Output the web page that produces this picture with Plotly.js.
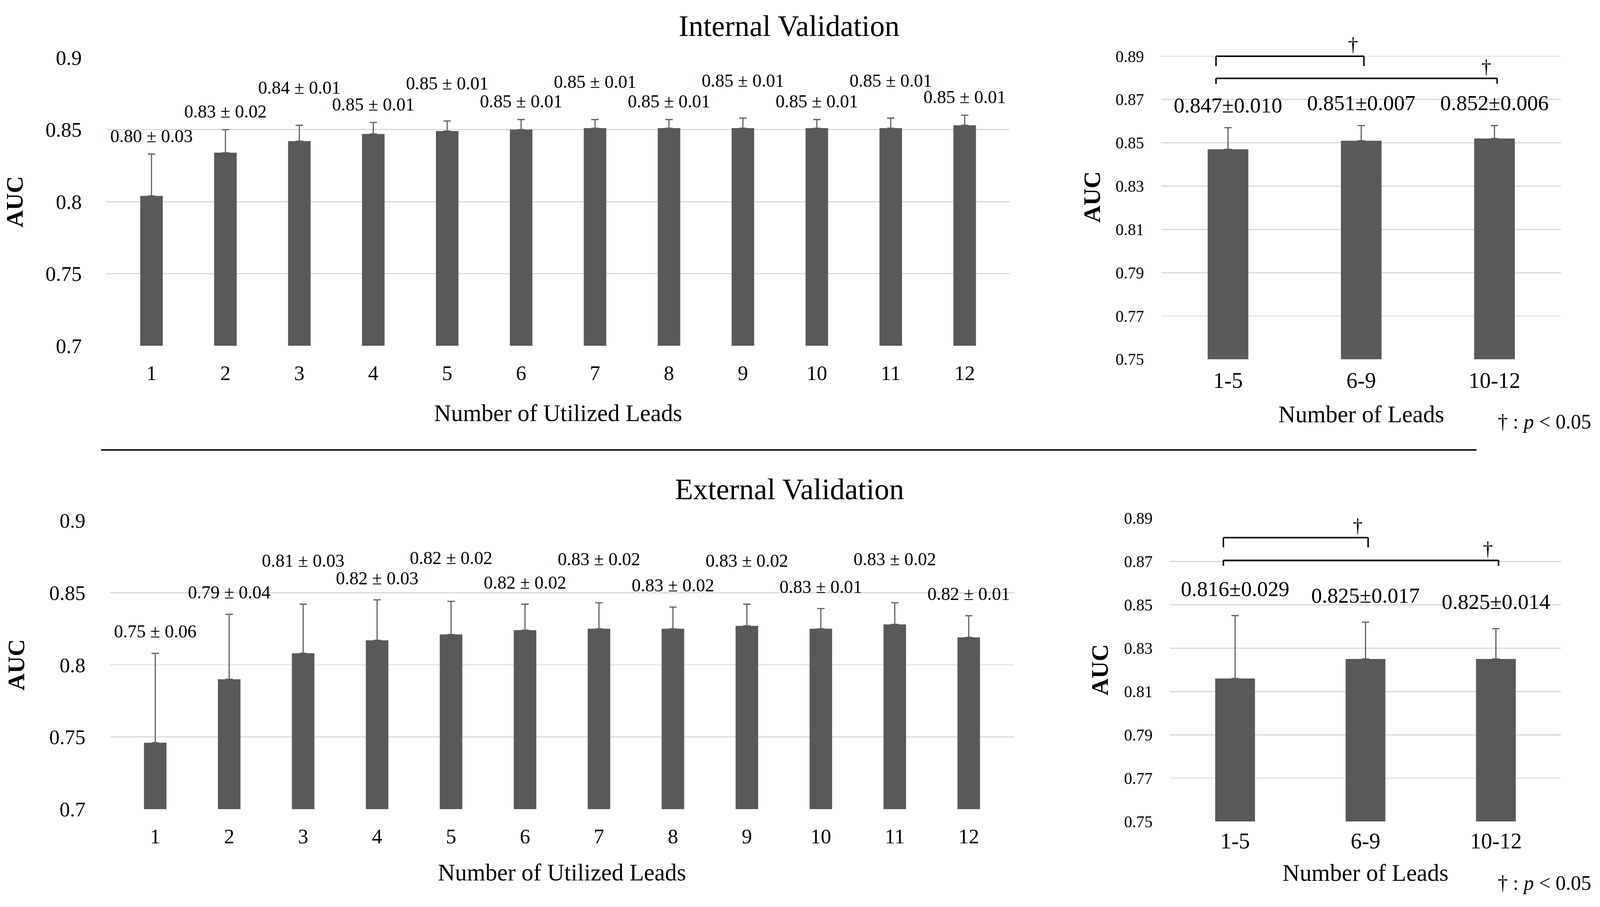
<!DOCTYPE html>
<html>
<head>
<meta charset="utf-8">
<script src="https://cdn.plot.ly/plotly-3.0.1.min.js"></script>
<style>
html,body{margin:0;padding:0;background:#fff;overflow:hidden;}
#chart{position:absolute;left:0;top:0;}
</style>
</head>
<body>
<div id="chart"></div>
<script>
// ---------- data ----------
const leadCounts = ['1','2','3','4','5','6','7','8','9','10','11','12'];
const internalMean = [0.804, 0.834, 0.842, 0.847, 0.849, 0.850, 0.851, 0.851, 0.851, 0.851, 0.851, 0.853];
const internalSD   = [0.029, 0.016, 0.011, 0.008, 0.007, 0.007, 0.006, 0.006, 0.007, 0.006, 0.007, 0.007];
const internalLabels = ['0.80 ± 0.03','0.83 ± 0.02','0.84 ± 0.01','0.85 ± 0.01','0.85 ± 0.01','0.85 ± 0.01',
                        '0.85 ± 0.01','0.85 ± 0.01','0.85 ± 0.01','0.85 ± 0.01','0.85 ± 0.01','0.85 ± 0.01'];
const externalMean = [0.746, 0.790, 0.808, 0.817, 0.821, 0.824, 0.825, 0.825, 0.827, 0.825, 0.828, 0.819];
const externalSD   = [0.062, 0.045, 0.034, 0.028, 0.023, 0.018, 0.018, 0.015, 0.015, 0.014, 0.015, 0.015];
const externalLabels = ['0.75 ± 0.06','0.79 ± 0.04','0.81 ± 0.03','0.82 ± 0.03','0.82 ± 0.02','0.82 ± 0.02',
                        '0.83 ± 0.02','0.83 ± 0.02','0.83 ± 0.02','0.83 ± 0.01','0.83 ± 0.02','0.82 ± 0.01'];

const leadGroups = ['1-5','6-9','10-12'];
const internalGroupMean = [0.847, 0.851, 0.852];
const internalGroupSD   = [0.010, 0.007, 0.006];
const externalGroupMean = [0.816, 0.825, 0.825];
const externalGroupSD   = [0.029, 0.017, 0.014];
const significantPairs  = [[0,1],[0,2]];

const leftTickVals  = [0.7, 0.75, 0.8, 0.85, 0.9];
const leftTickText  = ['0.7','0.75','0.8','0.85','0.9'];
const rightTickVals = [0.75, 0.77, 0.79, 0.81, 0.83, 0.85, 0.87, 0.89];
const rightTickText = ['0.75','0.77','0.79','0.81','0.83','0.85','0.87','0.89'];

// ---------- size (fit the real viewport) ----------
const W = window.innerWidth || 4319, H = window.innerHeight || 2322;
const S = Math.min(W / 4319, H / 2322);
const px = v => v * S;
const el = document.getElementById('chart');
el.style.width = W + 'px'; el.style.height = H + 'px';

// ---------- style ----------
const FONT = 'Liberation Serif, Times New Roman, serif';
const BAR = '#595959';
const GRID = '#d9d9d9';
const NOTICK = 'rgba(0,0,0,0)';

function barTrace(x, y, sd, xa, ya){
  return {type:'bar', x:x, y:y, xaxis:xa, yaxis:ya, showlegend:false, hoverinfo:'skip',
    marker:{color:BAR, line:{width:0}},
    error_y:{type:'data', symmetric:false, array:sd, arrayminus:sd.map(()=>0),
             color:BAR, thickness:px(3), width:px(10)}};
}
function labelTrace(x, mean, sd, text, xa, ya, base, stagger, size){
  const y = mean.map((m,i)=> m + sd[i] + base + ((i>=2 && i%2===0) ? stagger : 0));
  return {type:'scatter', mode:'text', x:x, y:y, text:text, xaxis:xa, yaxis:ya,
    textposition:'middle center', cliponaxis:false, showlegend:false, hoverinfo:'skip',
    textfont:{family:FONT, size:px(size), color:'#000'}};
}
function groupLabels(mean, sd){
  return mean.map((m,i)=> m.toFixed(3) + '±' + sd[i].toFixed(3));
}

const traces = [
  barTrace(leadCounts, internalMean, internalSD, 'x', 'y'),
  labelTrace(leadCounts, internalMean, internalSD, internalLabels, 'x', 'y', 0.0115, 0.0135, 49),
  barTrace(leadGroups, internalGroupMean, internalGroupSD, 'x2', 'y2'),
  labelTrace(leadGroups, internalGroupMean, internalGroupSD, groupLabels(internalGroupMean, internalGroupSD), 'x2', 'y2', 0.0095, 0, 58),
  barTrace(leadCounts, externalMean, externalSD, 'x3', 'y3'),
  labelTrace(leadCounts, externalMean, externalSD, externalLabels, 'x3', 'y3', 0.014, 0.015, 49),
  barTrace(leadGroups, externalGroupMean, externalGroupSD, 'x4', 'y4'),
  labelTrace(leadGroups, externalGroupMean, externalGroupSD, groupLabels(externalGroupMean, externalGroupSD), 'x4', 'y4', 0.0115, 0, 58)
];

function xAxis(domain, anchor, title, tickSize, gap, titleStandoff){
  return {domain:domain, anchor:anchor, type:'category', showgrid:false, zeroline:false, showline:false,
    ticks:'outside', ticklen:px(gap), tickcolor:NOTICK, tickwidth:1,
    tickfont:{family:FONT, size:px(tickSize), color:'#000'},
    automargin:false, fixedrange:true,
    title:{text:title, font:{family:FONT, size:px(64), color:'#000'}, standoff:px(titleStandoff)}};
}
function yAxis(domain, anchor, range, vals, text, tickSize, gap, titleStandoff){
  return {domain:domain, anchor:anchor, range:range, tickmode:'array', tickvals:vals, ticktext:text,
    showgrid:true, gridcolor:GRID, gridwidth:px(3), zeroline:false, showline:false,
    ticks:'outside', ticklen:px(gap), tickcolor:NOTICK, tickwidth:1,
    tickfont:{family:FONT, size:px(tickSize), color:'#000'},
    automargin:false, fixedrange:true,
    title:{text:'<b>AUC</b>', font:{family:FONT, size:px(64), color:'#000'}, standoff:px(titleStandoff)}};
}

// brackets for significance
function brackets(xa, ya, levels, legs){
  const shapes = [], anns = [];
  significantPairs.forEach((p, k)=>{
    const x0 = p[0] - 0.09, x1 = p[1] + 0.02, y = levels[k], yl = y - legs[k];
    const line = {type:'line', xref:xa, yref:ya, line:{color:'#000', width:px(4)}};
    shapes.push(Object.assign({}, line, {x0:x0, x1:x1, y0:y, y1:y}));
    shapes.push(Object.assign({}, line, {x0:x0, x1:x0, y0:y, y1:yl}));
    shapes.push(Object.assign({}, line, {x0:x1, x1:x1, y0:y, y1:yl}));
    anns.push({xref:xa, yref:ya, x:x1 - 0.08, y:y + 0.0055, text:'†', showarrow:false,
      xanchor:'center', yanchor:'middle', font:{family:FONT, size:px(54), color:'#000'}});
  });
  return {shapes, anns};
}
const bTop = brackets('x2', 'y2', [0.89, 0.8798], [0.0045, 0.0025]);
const bBot = brackets('x4', 'y4', [0.881, 0.8705], [0.0045, 0.0025]);

const layout = {
  width:W, height:H, margin:{l:0, r:0, t:0, b:0},
  paper_bgcolor:'#fff', plot_bgcolor:'#fff',
  font:{family:FONT, color:'#000'},
  bargap:0.695, showlegend:false,
  title:{text:'Internal Validation', x:0.4932, y:0.972, xref:'paper', yref:'paper',
         xanchor:'center', yanchor:'middle', font:{family:FONT, size:px(80), color:'#000'}},
  xaxis:  xAxis([0.06645, 0.63116], 'y',  'Number of Utilized Leads', 56, 24, 55),
  yaxis:  yAxis([0.61873, 0.93656], 'x',  [0.7, 0.9], leftTickVals, leftTickText, 56, 54, 40),
  xaxis2: xAxis([0.72586, 0.97569], 'y2', 'Number of Leads', 60, 4, 36),
  yaxis2: yAxis([0.60388, 0.96184], 'x2', [0.75, 0.9], rightTickVals, rightTickText, 44, 37, 20),
  xaxis3: xAxis([0.06877, 0.63371], 'y3', 'Number of Utilized Leads', 56, 24, 44),
  yaxis3: yAxis([0.10788, 0.42618], 'x3', [0.7, 0.9], leftTickVals, leftTickText, 56, 54, 46),
  xaxis4: xAxis([0.73119, 0.97569], 'y4', 'Number of Leads', 60, 0, 30),
  yaxis4: yAxis([0.09431, 0.42877], 'x4', [0.75, 0.89], rightTickVals, rightTickText, 44, 37, 22),
  shapes: [
    {type:'line', xref:'paper', yref:'paper', x0:0.0632, x1:0.9229, y0:0.5039, y1:0.5039,
     line:{color:'#000', width:px(4)}}
  ].concat(bTop.shapes, bBot.shapes),
  annotations: [
    {xref:'paper', yref:'paper', x:0.4934, y:0.4608, text:'External Validation', showarrow:false,
     xanchor:'center', yanchor:'middle', font:{family:FONT, size:px(80), color:'#000'}},
    {xref:'paper', yref:'paper', x:0.9951, y:0.5349, text:'† : <i>p</i> &lt; 0.05', showarrow:false,
     xanchor:'right', yanchor:'middle', font:{family:FONT, size:px(55), color:'#000'}},
    {xref:'paper', yref:'paper', x:0.9951, y:0.0267, text:'† : <i>p</i> &lt; 0.05', showarrow:false,
     xanchor:'right', yanchor:'middle', font:{family:FONT, size:px(55), color:'#000'}}
  ].concat(bTop.anns, bBot.anns)
};

Plotly.newPlot('chart', traces, layout, {staticPlot:true, displayModeBar:false});
</script>
</body>
</html>
